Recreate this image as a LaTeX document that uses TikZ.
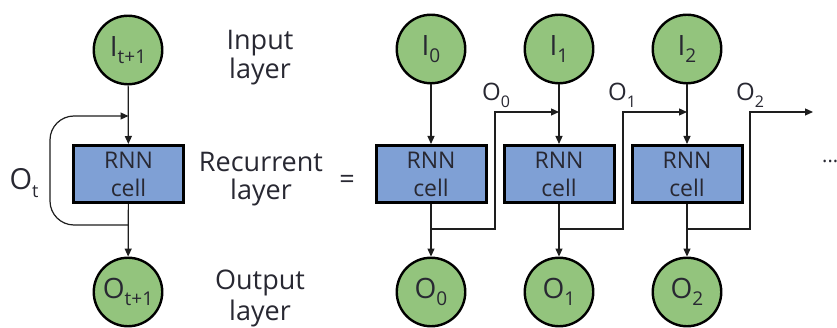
\documentclass[tikz,border=0pt]{standalone}
\usepackage{fontspec}
\setmainfont{Open Sans}
\usetikzlibrary{arrows.meta}
\definecolor{cgreen}{RGB}{147,196,125}
\definecolor{cblue}{RGB}{127,160,213}
\definecolor{ctext}{RGB}{40,40,50}
\definecolor{cline}{RGB}{30,30,30}
\newcommand\lsub[2]{\raisebox{-0.26em}{\fontsize{#1}{#1}\selectfont #2}}
\begin{document}
\begin{tikzpicture}[x=1pt,y=-1pt,
  neuron/.style={circle, draw=black, line width=2.4pt, fill=cgreen, minimum size=68.5pt, inner sep=0pt, text=ctext, font=\fontsize{28}{28}\selectfont},
  cellbox/.style={rectangle, draw=black, line width=3pt, fill=cblue, minimum width=110pt, minimum height=57pt, inner sep=0pt, align=center, text=ctext, font=\fontsize{23}{28}\selectfont},
  link/.style={draw=cline, line width=1.2pt, -{Triangle[length=8pt,width=7pt]}},
  lbl/.style={text=ctext, font=\fontsize{27}{27}\selectfont, anchor=base, inner sep=0pt},
  olbl/.style={text=ctext, font=\fontsize{24}{24}\selectfont, anchor=base west, inner sep=0pt}]
\useasboundingbox (0,0) rectangle (837,328);
\clip (0,0) rectangle (837,328);
\fill[white] (0,0) rectangle (837,328);

% left folded RNN
\node[neuron] (it) at (128,50) {I\lsub{19}{t+1}};
\node[cellbox] (rc) at (128.5,174) {RNN\\cell};
\node[neuron] (ot) at (128,292) {O\lsub{19}{t+1}};
\draw[link] (it) -- (rc);
\draw[link] (rc) -- (ot);
\coordinate (jl) at (128.5,225);
\coordinate (jt) at (128.5,116);
\draw[link, rounded corners=24pt] (jl) -- (50,225) -- (50,116) -- (jt);
\node[text=ctext, font=\fontsize{29}{29}\selectfont, inner sep=0pt] (olab) at (24,183) {O\lsub{18}{t}};

% layer labels
\node[lbl] (in1) at (260,50) {Input};
\node[lbl] (in2) at (260,79) {layer};
\node[lbl] (re1) at (261,172) {Recurrent};
\node[lbl] (re2) at (261,200) {layer};
\node[lbl] (ou1) at (260,290) {Output};
\node[lbl] (ou2) at (260,320) {layer};
\node[lbl] (eq) at (347,189) {=};

% unrolled RNN
\foreach \i/\x in {0/431,1/559,2/687}{
  \node[neuron] (i\i) at (\x,49) {I\lsub{19}{\i}};
  \node[cellbox] (c\i) at (\x,174) {RNN\\cell};
  \node[neuron] (o\i) at (\x,292) {O\lsub{19}{\i}};
  \draw[link] (i\i) -- (c\i);
  \draw[link] (c\i) -- (o\i);
  \coordinate (j\i) at (\x,229);
}
\coordinate (k0) at (495,229); \coordinate (m0) at (495,112); \coordinate (e0) at (559,112);
\coordinate (k1) at (623,229); \coordinate (m1) at (623,112); \coordinate (e1) at (687,112);
\coordinate (k2) at (750,229); \coordinate (m2) at (750,112); \coordinate (e2) at (813,112);
\foreach \i in {0,1,2}{
  \draw[link] (j\i) -- (k\i) -- (m\i) -- (e\i);
}
\node[olbl] (lo0) at (482,101) {O\lsub{16}{0}};
\node[olbl] (lo1) at (608,101) {O\lsub{16}{1}};
\node[olbl] (lo2) at (736,101) {O\lsub{16}{2}};
\node[text=ctext, font=\fontsize{20}{20}\selectfont, anchor=base west, inner sep=0pt] (dots) at (822,163) {...};
\end{tikzpicture}
\end{document}
